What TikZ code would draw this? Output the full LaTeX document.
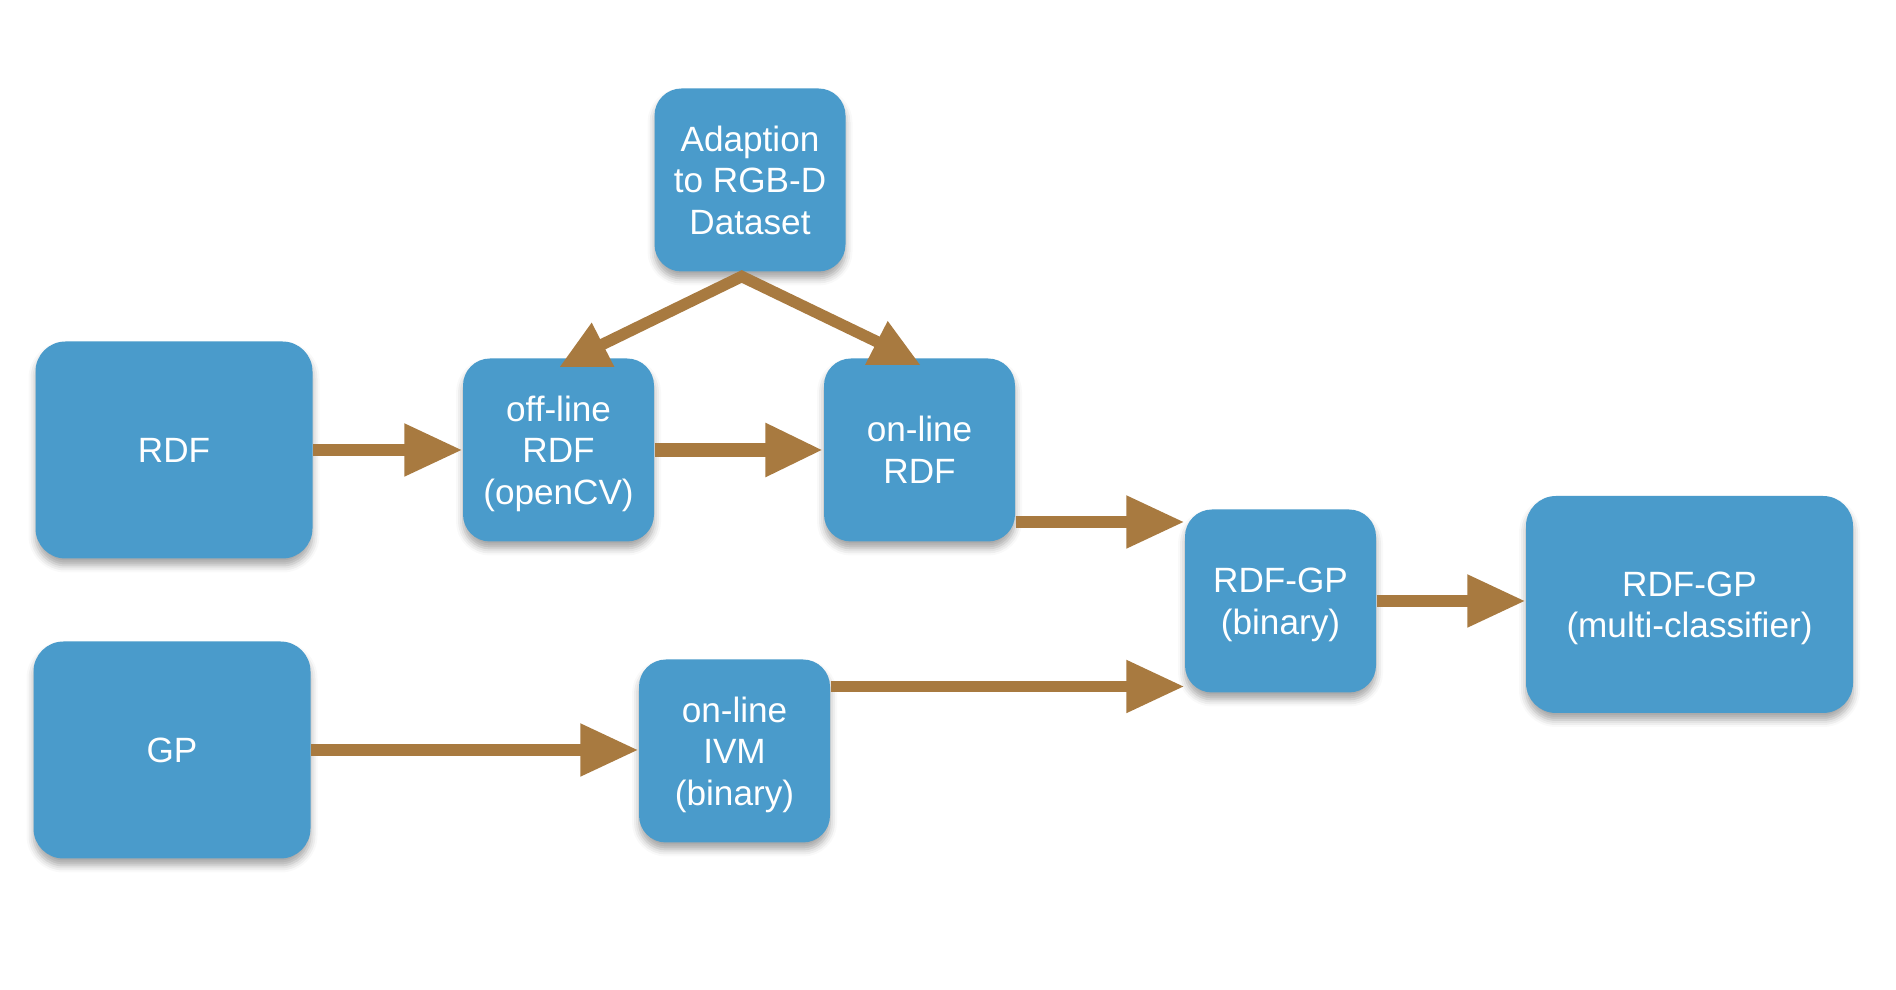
\documentclass[tikz,border=0pt]{standalone}
\usepackage{fontspec}
\setmainfont{Liberation Sans}
\usetikzlibrary{arrows.meta,shadows.blur}
\definecolor{boxblue}{RGB}{74,155,203}
\definecolor{arrowbrown}{RGB}{168,122,64}

\begin{document}
\begin{tikzpicture}[
    box/.style={fill=boxblue, rounded corners=0.27cm, text=white, align=center,
      font=\fontsize{10}{11.8}\selectfont, inner sep=0pt, text depth=-1.3pt,
      blur shadow={shadow xshift=0cm, shadow yshift=-0.07cm,
        shadow blur radius=0.07cm, shadow opacity=35}},
    smallbox/.style={box, minimum width=1.91cm, minimum height=1.83cm},
    bigbox/.style={box, minimum width=2.77cm, minimum height=2.17cm, rounded corners=0.3cm},
    flow/.style={draw=arrowbrown, line width=0.115cm,
      -{Triangle[length=0.58cm,width=0.5cm]}},
    flowline/.style={draw=arrowbrown, line width=0.115cm, miter limit=10},
  ]
  \useasboundingbox (0,0) rectangle (18.96,9.90);

  % Boxes of the left column
  \node[bigbox] (rdf) at (1.74,5.40) {RDF};
  \node[bigbox] (gp) at (1.72,2.40) {GP};

  % Boxes of the middle part
  \node[smallbox] (adapt) at (7.50,8.10) {Adaption\\to RGB-D\\Dataset};
  \node[smallbox] (offline) at (5.585,5.40) {off-line\\RDF\\(openCV)};
  \node[smallbox] (online) at (9.195,5.40) {on-line\\RDF};
  \node[smallbox] (ivm) at (7.345,2.39) {on-line\\IVM\\(binary)};

  % Boxes of the right part
  \node[smallbox] (rdfgp) at (12.805,3.89) {RDF-GP\\(binary)};
  \node[bigbox, minimum width=3.27cm] (multi) at (16.895,3.855) {RDF-GP\\(multi-classifier)};

  % Drawing arrows of the upper row
  \draw[flow] (rdf) -- (offline);
  \draw[flow, line width=0.145cm] (offline) -- (online);

  % Drawing arrows into RDF-GP
  \coordinate (rdfin) at ([yshift=0.79cm]rdfgp.west);
  \coordinate (ivmin) at ([yshift=-0.855cm]rdfgp.west);
  \draw[flow] (rdfin -| online.east) -- (rdfin);
  \draw[flow] (ivmin -| ivm.east) -- (ivmin);
  \draw[flow] (gp.east) -- (gp.east -| ivm.west);
  \draw[flow] (rdfgp.east) -- (rdfgp.east -| multi.west);

  % Drawing the fork below Adaption
  \coordinate (fork) at (7.417,7.135);
  \coordinate (offend) at (5.93,6.41);
  \coordinate (onend) at (8.90,6.42);
  \draw[flowline] (offend) -- (fork) -- (onend);
  \fill[arrowbrown] ([shift={(0.015,-0.09)}]offline.north) -- ++(0.543,0)
    -- ([shift={(0.332,0.352)}]offline.north) -- cycle;
  \fill[arrowbrown] ([shift={(-0.545,-0.072)}]online.north) -- ++(0.55,0)
    -- ([shift={(-0.318,0.368)}]online.north) -- cycle;
\end{tikzpicture}
\end{document}
